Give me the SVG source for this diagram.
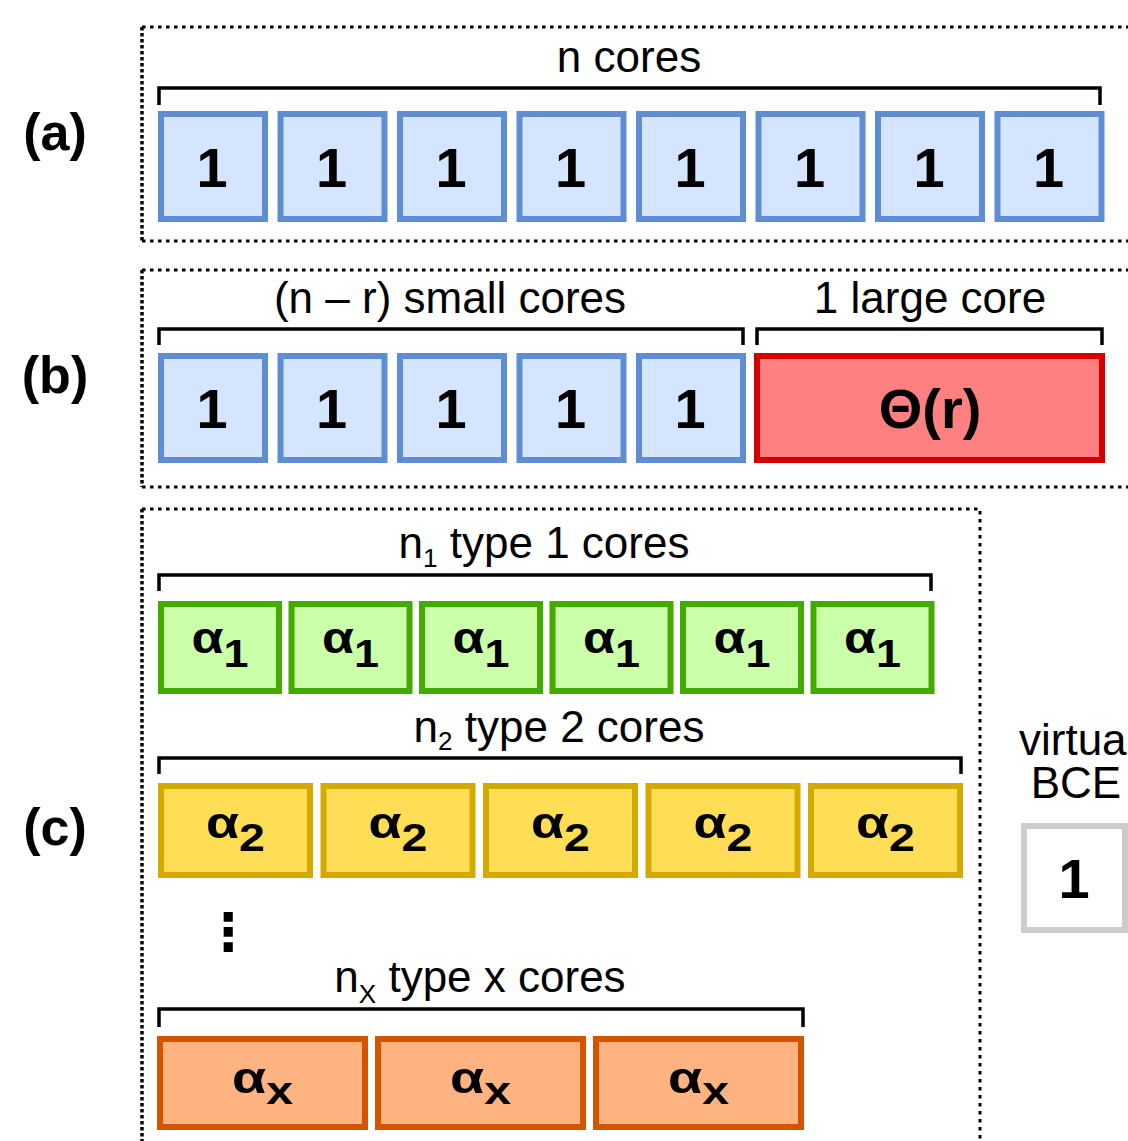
<svg xmlns="http://www.w3.org/2000/svg" width="1128" height="1141" viewBox="0 0 1128 1141">
  <style>
    text { font-family: "Liberation Sans", Arial, sans-serif; fill: #000; text-anchor: middle; }
    .lbl { font-size: 44px; }
    .sub { font-size: 26px; }
    .tag { font-size: 52px; font-weight: bold; }
    .num { font-size: 56px; font-weight: bold; }
    .al { font-size: 44px; font-weight: bold; }
    .al tspan { font-size: 38px; }
    .frame { fill: none; stroke: #000; stroke-width: 3; stroke-dasharray: 3.5 4.5; }
    .frame-l { fill: none; stroke: #000; stroke-width: 3.5; stroke-dasharray: 3.5 2.5; }
    .brace { fill: none; stroke: #000; stroke-width: 3.5; }
    .unit { fill: #d5e5ff; stroke: #5f8dd3; stroke-width: 6; }
    .big { fill: #ff8080; stroke: #d40000; stroke-width: 6; }
    .t1 { fill: #ccffaa; stroke: #44aa00; stroke-width: 6; }
    .t2 { fill: #ffdd55; stroke: #d4aa00; stroke-width: 6; }
    .tx { fill: #ffb380; stroke: #d45500; stroke-width: 6; }
    .bce { fill: #fff; stroke: #cccccc; stroke-width: 6; }
  </style>

  <!-- panel labels -->
  <g id="panel-labels">
    <text class="tag" x="55" y="150">(a)</text>
    <text class="tag" x="55" y="393">(b)</text>
    <text class="tag" x="55" y="845">(c)</text>
  </g>

  <!-- dotted panel frames -->
  <g id="frames">
    <path class="frame" d="M142,27 H1140 M142,241 H1140"/>
    <path class="frame-l" d="M142,27 V241"/>
    <path class="frame" d="M142,270 H1140 M142,487 H1140"/>
    <path class="frame-l" d="M142,270 V487"/>
    <path class="frame" d="M142,509 H980 V1150"/>
    <path class="frame-l" d="M142,509 V1150"/>
  </g>

  <!-- brackets grouping the cores -->
  <g id="connectors">
    <path class="brace" d="M159,105 V88 H1100 V105"/>
    <path class="brace" d="M159,345 V329 H743 V345"/>
    <path class="brace" d="M757,345 V329 H1102 V345"/>
    <path class="brace" d="M159,591 V575 H931 V591"/>
    <path class="brace" d="M159,774 V758 H961 V774"/>
    <path class="brace" d="M159,1027 V1009 H803 V1027"/>
  </g>

  <!-- (a) symmetric: n cores -->
  <g id="a-caption"><text class="lbl" x="629" y="72">n cores</text></g>
  <g id="a-core-1"><rect class="unit" x="161" y="114" width="104" height="105"/><text class="num" x="212" y="187">1</text></g>
  <g id="a-core-2"><rect class="unit" x="280.5" y="114" width="104" height="105"/><text class="num" x="331.5" y="187">1</text></g>
  <g id="a-core-3"><rect class="unit" x="400" y="114" width="104" height="105"/><text class="num" x="451" y="187">1</text></g>
  <g id="a-core-4"><rect class="unit" x="519.5" y="114" width="104" height="105"/><text class="num" x="570.5" y="187">1</text></g>
  <g id="a-core-5"><rect class="unit" x="639" y="114" width="104" height="105"/><text class="num" x="690" y="187">1</text></g>
  <g id="a-core-6"><rect class="unit" x="758.5" y="114" width="104" height="105"/><text class="num" x="809.5" y="187">1</text></g>
  <g id="a-core-7"><rect class="unit" x="878" y="114" width="104" height="105"/><text class="num" x="929" y="187">1</text></g>
  <g id="a-core-8"><rect class="unit" x="997.5" y="114" width="104" height="105"/><text class="num" x="1048.5" y="187">1</text></g>

  <!-- (b) asymmetric: small cores plus one large core -->
  <g id="b-caption-small"><text class="lbl" x="450" y="313">(n – r) small cores</text></g>
  <g id="b-caption-large"><text class="lbl" x="930" y="313">1 large core</text></g>
  <g id="b-core-1"><rect class="unit" x="161" y="356" width="104" height="104"/><text class="num" x="212" y="428">1</text></g>
  <g id="b-core-2"><rect class="unit" x="280.5" y="356" width="104" height="104"/><text class="num" x="331.5" y="428">1</text></g>
  <g id="b-core-3"><rect class="unit" x="400" y="356" width="104" height="104"/><text class="num" x="451" y="428">1</text></g>
  <g id="b-core-4"><rect class="unit" x="519.5" y="356" width="104" height="104"/><text class="num" x="570.5" y="428">1</text></g>
  <g id="b-core-5"><rect class="unit" x="639" y="356" width="104" height="104"/><text class="num" x="690" y="428">1</text></g>
  <g id="b-core-large"><rect class="big" x="757" y="356" width="345" height="104"/><text class="num" x="930" y="428">Θ(r)</text></g>

  <!-- (c) heterogeneous: type 1 cores -->
  <g id="c-caption-1"><text class="lbl" x="544" y="558">n<tspan class="sub" dy="9">1</tspan><tspan dy="-9"> type 1 cores</tspan></text></g>
  <g id="c1-core-1"><rect class="t1" x="161" y="604" width="118" height="87"/><text class="al" x="220" y="653" textLength="57" lengthAdjust="spacingAndGlyphs">α<tspan dy="14">1</tspan></text></g>
  <g id="c1-core-2"><rect class="t1" x="291.5" y="604" width="118" height="87"/><text class="al" x="350.5" y="653" textLength="57" lengthAdjust="spacingAndGlyphs">α<tspan dy="14">1</tspan></text></g>
  <g id="c1-core-3"><rect class="t1" x="422" y="604" width="118" height="87"/><text class="al" x="481" y="653" textLength="57" lengthAdjust="spacingAndGlyphs">α<tspan dy="14">1</tspan></text></g>
  <g id="c1-core-4"><rect class="t1" x="552.5" y="604" width="118" height="87"/><text class="al" x="611.5" y="653" textLength="57" lengthAdjust="spacingAndGlyphs">α<tspan dy="14">1</tspan></text></g>
  <g id="c1-core-5"><rect class="t1" x="683" y="604" width="118" height="87"/><text class="al" x="742" y="653" textLength="57" lengthAdjust="spacingAndGlyphs">α<tspan dy="14">1</tspan></text></g>
  <g id="c1-core-6"><rect class="t1" x="813.5" y="604" width="118" height="87"/><text class="al" x="872.5" y="653" textLength="57" lengthAdjust="spacingAndGlyphs">α<tspan dy="14">1</tspan></text></g>

  <!-- type 2 cores -->
  <g id="c-caption-2"><text class="lbl" x="559" y="742">n<tspan class="sub" dy="8">2</tspan><tspan dy="-8"> type 2 cores</tspan></text></g>
  <g id="c2-core-1"><rect class="t2" x="161" y="786" width="149" height="89"/><text class="al" x="235.5" y="838" textLength="59" lengthAdjust="spacingAndGlyphs">α<tspan dy="13">2</tspan></text></g>
  <g id="c2-core-2"><rect class="t2" x="323.5" y="786" width="149" height="89"/><text class="al" x="398" y="838" textLength="59" lengthAdjust="spacingAndGlyphs">α<tspan dy="13">2</tspan></text></g>
  <g id="c2-core-3"><rect class="t2" x="486" y="786" width="149" height="89"/><text class="al" x="560.5" y="838" textLength="59" lengthAdjust="spacingAndGlyphs">α<tspan dy="13">2</tspan></text></g>
  <g id="c2-core-4"><rect class="t2" x="648.5" y="786" width="149" height="89"/><text class="al" x="723" y="838" textLength="59" lengthAdjust="spacingAndGlyphs">α<tspan dy="13">2</tspan></text></g>
  <g id="c2-core-5"><rect class="t2" x="811" y="786" width="149" height="89"/><text class="al" x="885.5" y="838" textLength="59" lengthAdjust="spacingAndGlyphs">α<tspan dy="13">2</tspan></text></g>

  <!-- vertical ellipsis between core types -->
  <g id="c-ellipsis"><text x="228" y="950" style="font-family: 'DejaVu Sans', sans-serif; font-size: 52px; font-weight: bold;">⋮</text></g>

  <!-- type x cores -->
  <g id="c-caption-x"><text class="lbl" x="480" y="992">n<tspan class="sub" dy="11">X</tspan><tspan dy="-11"> type x cores</tspan></text></g>
  <g id="cx-core-1"><rect class="tx" x="160" y="1039" width="205" height="88"/><text class="al" x="262.5" y="1093" textLength="61" lengthAdjust="spacingAndGlyphs">α<tspan dy="11">x</tspan></text></g>
  <g id="cx-core-2"><rect class="tx" x="378" y="1039" width="205" height="88"/><text class="al" x="480.5" y="1093" textLength="61" lengthAdjust="spacingAndGlyphs">α<tspan dy="11">x</tspan></text></g>
  <g id="cx-core-3"><rect class="tx" x="596" y="1039" width="205" height="88"/><text class="al" x="698.5" y="1093" textLength="61" lengthAdjust="spacingAndGlyphs">α<tspan dy="11">x</tspan></text></g>

  <!-- virtual base core equivalent -->
  <g id="bce-caption">
    <text class="lbl" x="1019" y="755" style="text-anchor: start;">virtua</text>
    <text class="lbl" x="1076" y="798">BCE</text>
  </g>
  <g id="bce-core"><rect class="bce" x="1024" y="826" width="101" height="104"/><text class="num" x="1074" y="898">1</text></g>
</svg>
